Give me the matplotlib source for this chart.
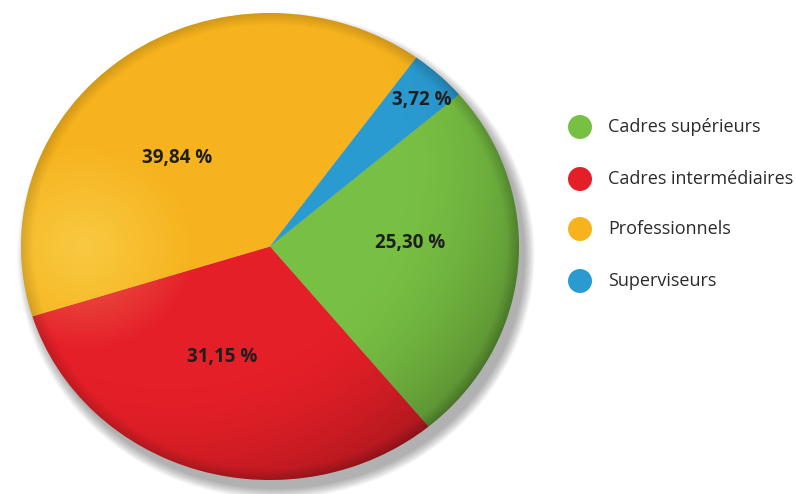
import numpy as np
import matplotlib.pyplot as plt
from matplotlib.patches import Circle, Ellipse

plt.rcParams['font.family'] = ['Open Sans', 'DejaVu Sans']

# data
categories = ['Cadres supérieurs', 'Cadres intermédiaires', 'Professionnels', 'Superviseurs']
values = [25.30, 31.15, 39.84, 3.72]
labels = ['25,30 %', '31,15 %', '39,84 %', '3,72 %']
colors = ['#78c043', '#e51f28', '#f6b31d', '#2a9bd1']

W, H = 796, 494
fig = plt.figure(figsize=(W / 100, H / 100), dpi=100)

# background axes in pixel coords (y down) for shadow + legend
ax = fig.add_axes([0, 0, 1, 1])
ax.set_xlim(0, W)
ax.set_ylim(H, 0)
ax.axis('off')

# pie occupies an ellipse (slight perspective)
left, right, top, bottom = 21, 519, 13, 480
cx, cy = (left + right) / 2, (top + bottom) / 2
rx, ry = (right - left) / 2, (bottom - top) / 2

# soft grey shadow
for i in range(14):
    ax.add_patch(Ellipse((cx + 6, cy + 9), 2 * rx + 1.5 * i, 2 * ry + 1.5 * i,
                         color='black', alpha=0.022, lw=0, zorder=0))

# legend
leg_y = [127, 179, 229, 281]
for c, name, y in zip(colors, categories, leg_y):
    ax.add_patch(Circle((580, y), 12, color=c, lw=0, zorder=5))
    ax.text(608, y, name, ha='left', va='center', fontsize=13, color='#2b2b2b', zorder=5)

# pie axes
pax = fig.add_axes([left / W, 1 - bottom / H, (right - left) / W, (bottom - top) / H])
pax.patch.set_alpha(0)
pax.pie(values, colors=colors, startangle=40.6, counterclock=False,
        radius=1, wedgeprops=dict(lw=0))
pax.set_aspect('auto')
pax.axis('off')

# sphere-like shading
n = 400
xs = np.linspace(-1, 1, n)
X, Y = np.meshgrid(xs, xs)
d = np.sqrt((X + 0.4) ** 2 + (Y - 0.35) ** 2)
rr = np.sqrt(X ** 2 + Y ** 2)
dark = np.clip((d - 0.9) / 0.8, 0, 1) ** 1.8 * 0.38
rim = np.clip((rr - 0.95) / 0.05, 0, 1) * 0.15
shade = np.zeros((n, n, 4))
shade[..., 3] = np.clip(dark + rim, 0, 1)
im = pax.imshow(shade, extent=(-1, 1, -1, 1), origin='lower', zorder=3, aspect='auto')
im.set_clip_path(Circle((0, 0), 1, transform=pax.transData))

hl = np.ones((n, n, 4))
hl[..., 0:3] = [1, 1, 0.6]
hl[..., 3] = np.clip(1 - np.sqrt((X + 0.75) ** 2 + (Y - 0.0) ** 2) / 0.45, 0, 1) * 0.3
im2 = pax.imshow(hl, extent=(-1, 1, -1, 1), origin='lower', zorder=3, aspect='auto')
im2.set_clip_path(Circle((0, 0), 1, transform=pax.transData))
pax.set_xlim(-1, 1)
pax.set_ylim(-1, 1)

# value labels
label_pos = [(410, 243), (222, 357), (177, 158), (422, 100)]
for (x, y), t in zip(label_pos, labels):
    fig.text(x / W, 1 - y / H, t, ha='center', va='center', fontsize=13.5,
             fontweight='bold', color='#1e1e1e', zorder=10)

fig.savefig('out.png', dpi=100)
